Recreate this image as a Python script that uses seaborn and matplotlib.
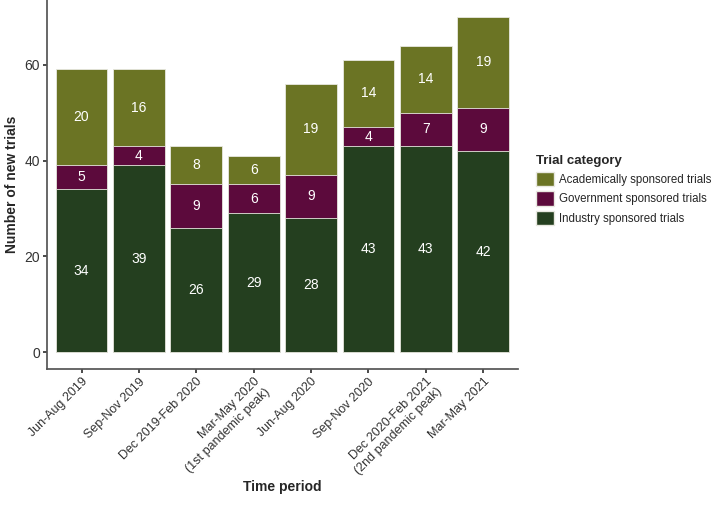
import matplotlib
matplotlib.use("Agg")
import matplotlib.pyplot as plt
import seaborn as sns
import pandas as pd
from matplotlib.patches import Patch

periods = ['Jun-Aug 2019', 'Sep-Nov 2019', 'Dec 2019-Feb 2020',
           'Mar-May 2020\n(1st pandemic peak)', 'Jun-Aug 2020', 'Sep-Nov 2020',
           'Dec 2020-Feb 2021\n(2nd pandemic peak)', 'Mar-May 2021']
industry = [34, 39, 26, 29, 28, 43, 43, 42]
government = [5, 4, 9, 6, 9, 4, 7, 9]
academic = [20, 16, 8, 6, 19, 14, 14, 19]
categories = ['Academically sponsored trials', 'Government sponsored trials', 'Industry sponsored trials']
colors = ['#6b7424', '#5c0a3c', '#243f1f']

sns.set_theme(style="ticks")
plt.rcParams['font.family'] = ['Liberation Sans', 'DejaVu Sans']

df = pd.DataFrame({'period': periods, 'industry': industry,
                   'government': government, 'academic': academic})
df['ind_gov'] = df['industry'] + df['government']
df['total'] = df['ind_gov'] + df['academic']

fig = plt.figure(figsize=(7.14, 5.16), dpi=100)
ax = fig.add_axes([0.066, 0.285, 0.659, 0.715])

# stacked bars drawn as overlapping cumulative totals
for col, c in zip(['total', 'ind_gov', 'industry'], colors):
    sns.barplot(data=df, x='period', y=col, color=c, width=0.9, saturation=1,
                edgecolor='#e8e8e0', linewidth=0.6, ax=ax)

# value labels in the middle of each segment
for i, row in df.iterrows():
    ax.text(i, row['industry'] / 2, str(row['industry']), color='white',
            ha='center', va='center', fontsize=10)
    ax.text(i, row['industry'] + row['government'] / 2, str(row['government']),
            color='white', ha='center', va='center', fontsize=10)
    ax.text(i, row['ind_gov'] + row['academic'] / 2, str(row['academic']),
            color='white', ha='center', va='center', fontsize=10)

ax.set_xlim(-0.6, 7.6)
ax.set_ylim(-3.5, 73.5)
ax.set_yticks([0, 20, 40, 60])
ax.set_xticks(range(len(periods)))
ax.set_xticklabels(periods, rotation=45, ha='right', rotation_mode='anchor', fontsize=9)
ax.tick_params(axis='y', labelsize=10)
ax.tick_params(colors='#333333', labelcolor='#333333', length=3, pad=2)
for s in ['left', 'bottom']:
    ax.spines[s].set_color('#555555')
sns.despine(ax=ax)
ax.set_xlabel('Time period', fontweight='bold', fontsize=10, labelpad=2)
ax.set_ylabel('Number of new trials', fontweight='bold', fontsize=10)

handles = [Patch(facecolor=c, edgecolor='#e8e8e0', label=l) for c, l in zip(colors, categories)]
leg = fig.legend(handles=handles, title='Trial category', loc='center left',
                 bbox_to_anchor=(0.751, 0.632), frameon=False, fontsize=8.3,
                 title_fontproperties={'weight': 'bold', 'size': 9.5},
                 handlelength=1.5, handleheight=1.5, handletextpad=0.45,
                 labelspacing=0.45, borderpad=0, borderaxespad=0)
leg._legend_box.align = 'left'

fig.savefig('out.png', dpi=100)
